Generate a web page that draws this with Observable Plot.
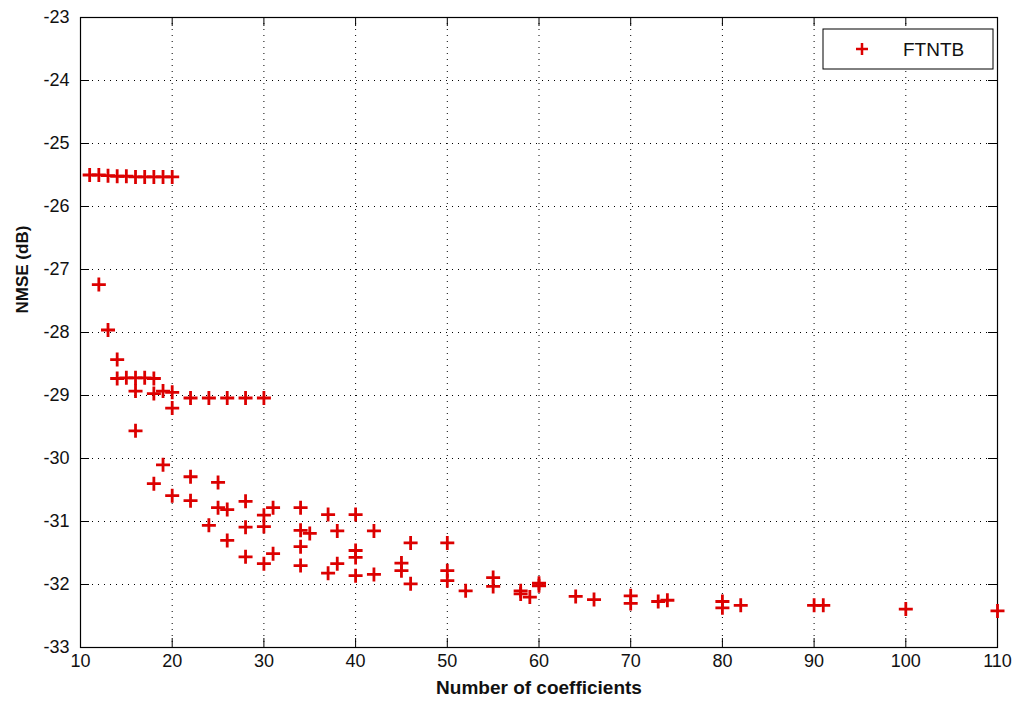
<!DOCTYPE html>
<html>
<head>
<meta charset="utf-8">
<script src="https://cdn.jsdelivr.net/npm/d3@7"></script>
<script src="https://cdn.jsdelivr.net/npm/@observablehq/plot@0.6"></script>
<style>
  html, body { margin: 0; padding: 0; background: #fff; }
  #chart { width: 1018px; height: 707px; }
</style>
</head>
<body>
<div id="chart"></div>
<script>
// ---- data ----
const nCoeffs = [
  11,12,13,14,15,16,17,18,19,20,
  12,13,14,14,15,16,16,16,17,18,18,19,20,20,22,24,26,28,30,
  18,19,20,22,22,24,25,25,26,26,28,28,28,30,30,30,31,31,
  34,34,34,34,35,37,37,38,38,40,40,40,40,42,42,45,45,46,46,
  50,50,50,52,55,55,58,58,59,60,60,64,66,70,70,73,74,80,80,82,90,91,100,110
];
const nmseDb = [
  -25.50,-25.50,-25.51,-25.52,-25.52,-25.53,-25.53,-25.53,-25.53,-25.53,
  -27.24,-27.96,-28.43,-28.73,-28.72,-28.72,-28.93,-29.56,-28.72,-28.73,-28.97,-28.93,-28.95,-29.20,-29.04,-29.04,-29.04,-29.04,-29.04,
  -30.40,-30.10,-30.59,-30.29,-30.67,-31.06,-30.38,-30.78,-30.81,-31.30,-30.68,-31.09,-31.56,-30.90,-31.08,-31.67,-30.78,-31.51,
  -30.78,-31.14,-31.40,-31.70,-31.19,-30.89,-31.82,-31.15,-31.67,-30.89,-31.46,-31.57,-31.86,-31.15,-31.84,-31.66,-31.78,-31.34,-31.99,
  -31.34,-31.78,-31.94,-32.10,-31.89,-32.03,-32.10,-32.15,-32.20,-31.98,-32.02,-32.19,-32.24,-32.18,-32.30,-32.27,-32.25,-32.27,-32.37,-32.33,-32.33,-32.33,-32.39,-32.42
];
const xTicks = [10,20,30,40,50,60,70,80,90,100,110];
const yTicks = [-33,-32,-31,-30,-29,-28,-27,-26,-25,-24,-23];
const seriesName = "FTNTB";
const xTitle = "Number of coefficients";
const yTitle = "NMSE (dB)";

const points = nCoeffs.map((x, i) => ({x, y: nmseDb[i]}));

const plusSymbol = {
  draw(ctx, size) {
    const r = Math.sqrt(size / Math.PI);
    ctx.moveTo(-r, 0); ctx.lineTo(r, 0);
    ctx.moveTo(0, -r); ctx.lineTo(0, r);
  }
};

const RED = "#dc0000";
const W = 1018, H = 707;
const mL = 80, mR = 21, mT = 17, mB = 60;
const fw = W - mL - mR, fh = H - mT - mB;
const tickLen = 9;
const grid = {stroke: "black", strokeOpacity: 1, strokeWidth: 1, strokeDasharray: "1,5"};

// legend drawn as a custom render mark
function legendMark(index, scales, values, dims) {
  const g = d3.create("svg:g");
  const bx = 823, by = 29, bw = 170, bh = 40;
  g.append("rect").attr("x", bx).attr("y", by).attr("width", bw).attr("height", bh)
    .attr("fill", "white").attr("stroke", "black").attr("stroke-width", 1);
  g.append("path").attr("d", `M${862-6},${by+bh/2}h12M862,${by+bh/2-6}v12`)
    .attr("stroke", RED).attr("stroke-width", 2.5).attr("fill", "none");
  g.append("text").attr("x", 903).attr("y", by + bh/2).attr("dy", "0.35em")
    .attr("text-anchor", "start")
    .attr("font-size", 19).attr("fill", "#111").text(seriesName);
  return g.node();
}

const chart = Plot.plot({
  width: W, height: H,
  marginLeft: mL, marginRight: mR, marginTop: mT, marginBottom: mB,
  style: {fontFamily: "'Liberation Sans', Arial, sans-serif", fontSize: "18px", color: "#111", background: "white"},
  x: {domain: [10, 110], ticks: xTicks},
  y: {domain: [-33, -23], ticks: yTicks},
  marks: [
    Plot.gridX(xTicks, grid),
    Plot.gridY(yTicks, grid),
    // inward tick marks on all four sides
    Plot.ruleX(xTicks, {stroke: "black", insetTop: fh - tickLen}),
    Plot.ruleX(xTicks, {stroke: "black", insetBottom: fh - tickLen}),
    Plot.ruleY(yTicks, {stroke: "black", insetRight: fw - tickLen}),
    Plot.ruleY(yTicks, {stroke: "black", insetLeft: fw - tickLen}),
    Plot.frame({stroke: "black", strokeWidth: 1.2}),
    Plot.axisX(xTicks, {tickSize: 0, tickPadding: 7, label: null, fontSize: 18}),
    Plot.axisY(yTicks, {tickSize: 0, tickPadding: 11, label: null, fontSize: 18, tickFormat: d => String(d)}),
    Plot.dot(points, {x: "x", y: "y", symbol: plusSymbol, r: 7, stroke: RED, strokeWidth: 2.8, fill: "none"}),
    Plot.text([xTitle], {text: d => d, frameAnchor: "bottom", dy: 46, fontWeight: "bold", fontSize: 19}),
    Plot.text([yTitle], {text: d => d, frameAnchor: "left", rotate: -90, dx: -58, dy: -19, fontWeight: "bold", fontSize: 17}),
    legendMark
  ]
});
document.getElementById("chart").appendChild(chart);
</script>
</body>
</html>
